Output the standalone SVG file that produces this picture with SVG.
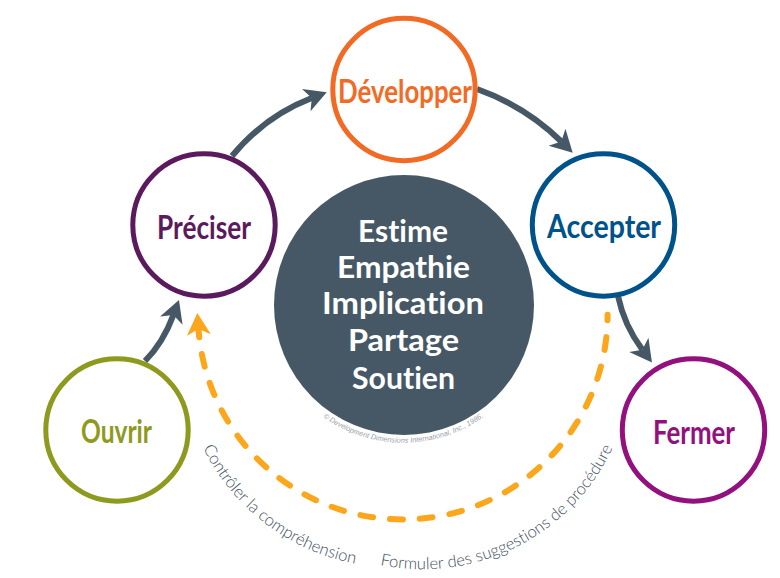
<svg xmlns="http://www.w3.org/2000/svg" width="780" height="578" viewBox="0 0 780 578">
<style>
text{font-variant-ligatures:none}
.node{fill:#fff;stroke-width:5}
.lbl{font-family:"Lato","Liberation Sans",sans-serif;font-weight:700;font-size:32px}
.core{font-family:"Lato","Liberation Sans",sans-serif;font-weight:700;font-size:31px;fill:#fff}
.arc{font-family:"Lato","Open Sans",sans-serif;font-weight:300;font-size:16.6px;fill:#3f505e}
.link{fill:none;stroke:#465866;stroke-width:6}
</style>
<defs>
<marker id="ah" markerUnits="userSpaceOnUse" markerWidth="30" markerHeight="30" refX="6" refY="13" orient="auto"><path d="M22,13 L0,1 L6,13 L0,25 Z" fill="#465866"/></marker>
<marker id="ao" markerUnits="userSpaceOnUse" markerWidth="30" markerHeight="30" refX="6" refY="13" orient="auto"><path d="M22,13 L0,1 L6,13 L0,25 Z" fill="#FCA61C"/></marker>
<path id="p1" d="M203,448 A215,215 0 0 0 370,566"/>
<path id="p2" d="M380,565 A210,210 0 0 0 620,430"/>
<path id="p3" d="M323,417 A138,138 0 0 0 490,412"/>
</defs>
<g id="connectors">
<path class="link" d="M232,156 Q265,116 311.8,98" marker-end="url(#ah)"/>
<path class="link" d="M477,89 Q525.8,106.5 561.3,141.5" marker-end="url(#ah)"/>
<path class="link" d="M618,296 Q624,325 642.4,349.7" marker-end="url(#ah)"/>
<path class="link" d="M145,361 Q163,343 173.4,315" marker-end="url(#ah)"/>
<path d="M607.6,314.7 A204.8,204.8 0 0 1 198.5,329" fill="none" stroke="#FCA61C" stroke-width="6" stroke-linecap="round" stroke-dasharray="12.9 17" stroke-dashoffset="7.4" marker-end="url(#ao)"/>
</g>
<g id="developper"><circle class="node" cx="404" cy="89.5" r="71.2" stroke="#F26B25"/><text class="lbl" x="338" y="103" fill="#F26B25" textLength="134" lengthAdjust="spacingAndGlyphs">Développer</text></g>
<g id="accepter"><circle class="node" cx="603.5" cy="225" r="71.2" stroke="#00528A"/><text class="lbl" x="547" y="238" fill="#00528A" textLength="114" lengthAdjust="spacingAndGlyphs">Accepter</text></g>
<g id="preciser"><circle class="node" cx="204" cy="225" r="71.2" stroke="#5C1A5E"/><text class="lbl" x="157" y="239" fill="#5C1A5E" textLength="94" lengthAdjust="spacingAndGlyphs">Préciser</text></g>
<g id="ouvrir"><circle class="node" cx="117" cy="430" r="71.2" stroke="#8D9A1E"/><text class="lbl" x="81" y="443" fill="#8D9A1E" textLength="71" lengthAdjust="spacingAndGlyphs">Ouvrir</text></g>
<g id="fermer"><circle class="node" cx="693.5" cy="430" r="71.2" stroke="#93117E"/><text class="lbl" x="653" y="444" fill="#93117E" textLength="82" lengthAdjust="spacingAndGlyphs">Fermer</text></g>
<g id="centre"><circle cx="404" cy="305" r="130" fill="#465866"/>
<text class="core" x="358" y="242" textLength="90" lengthAdjust="spacingAndGlyphs">Estime</text>
<text class="core" x="337" y="278" textLength="133" lengthAdjust="spacingAndGlyphs">Empathie</text>
<text class="core" x="322" y="314" textLength="162" lengthAdjust="spacingAndGlyphs">Implication</text>
<text class="core" x="348" y="351" textLength="111" lengthAdjust="spacingAndGlyphs">Partage</text>
<text class="core" x="352" y="389" textLength="103" lengthAdjust="spacingAndGlyphs">Soutien</text></g>
<text font-family="'Liberation Sans',sans-serif" font-style="italic" font-size="7.3" fill="#9aa3aa"><textPath href="#p3">© Development Dimensions International, Inc., 1986.</textPath></text>
<text class="arc"><textPath href="#p1">Contrôler la compréhension</textPath></text>
<text class="arc"><textPath href="#p2">Formuler des suggestions de procédure</textPath></text>
</svg>
